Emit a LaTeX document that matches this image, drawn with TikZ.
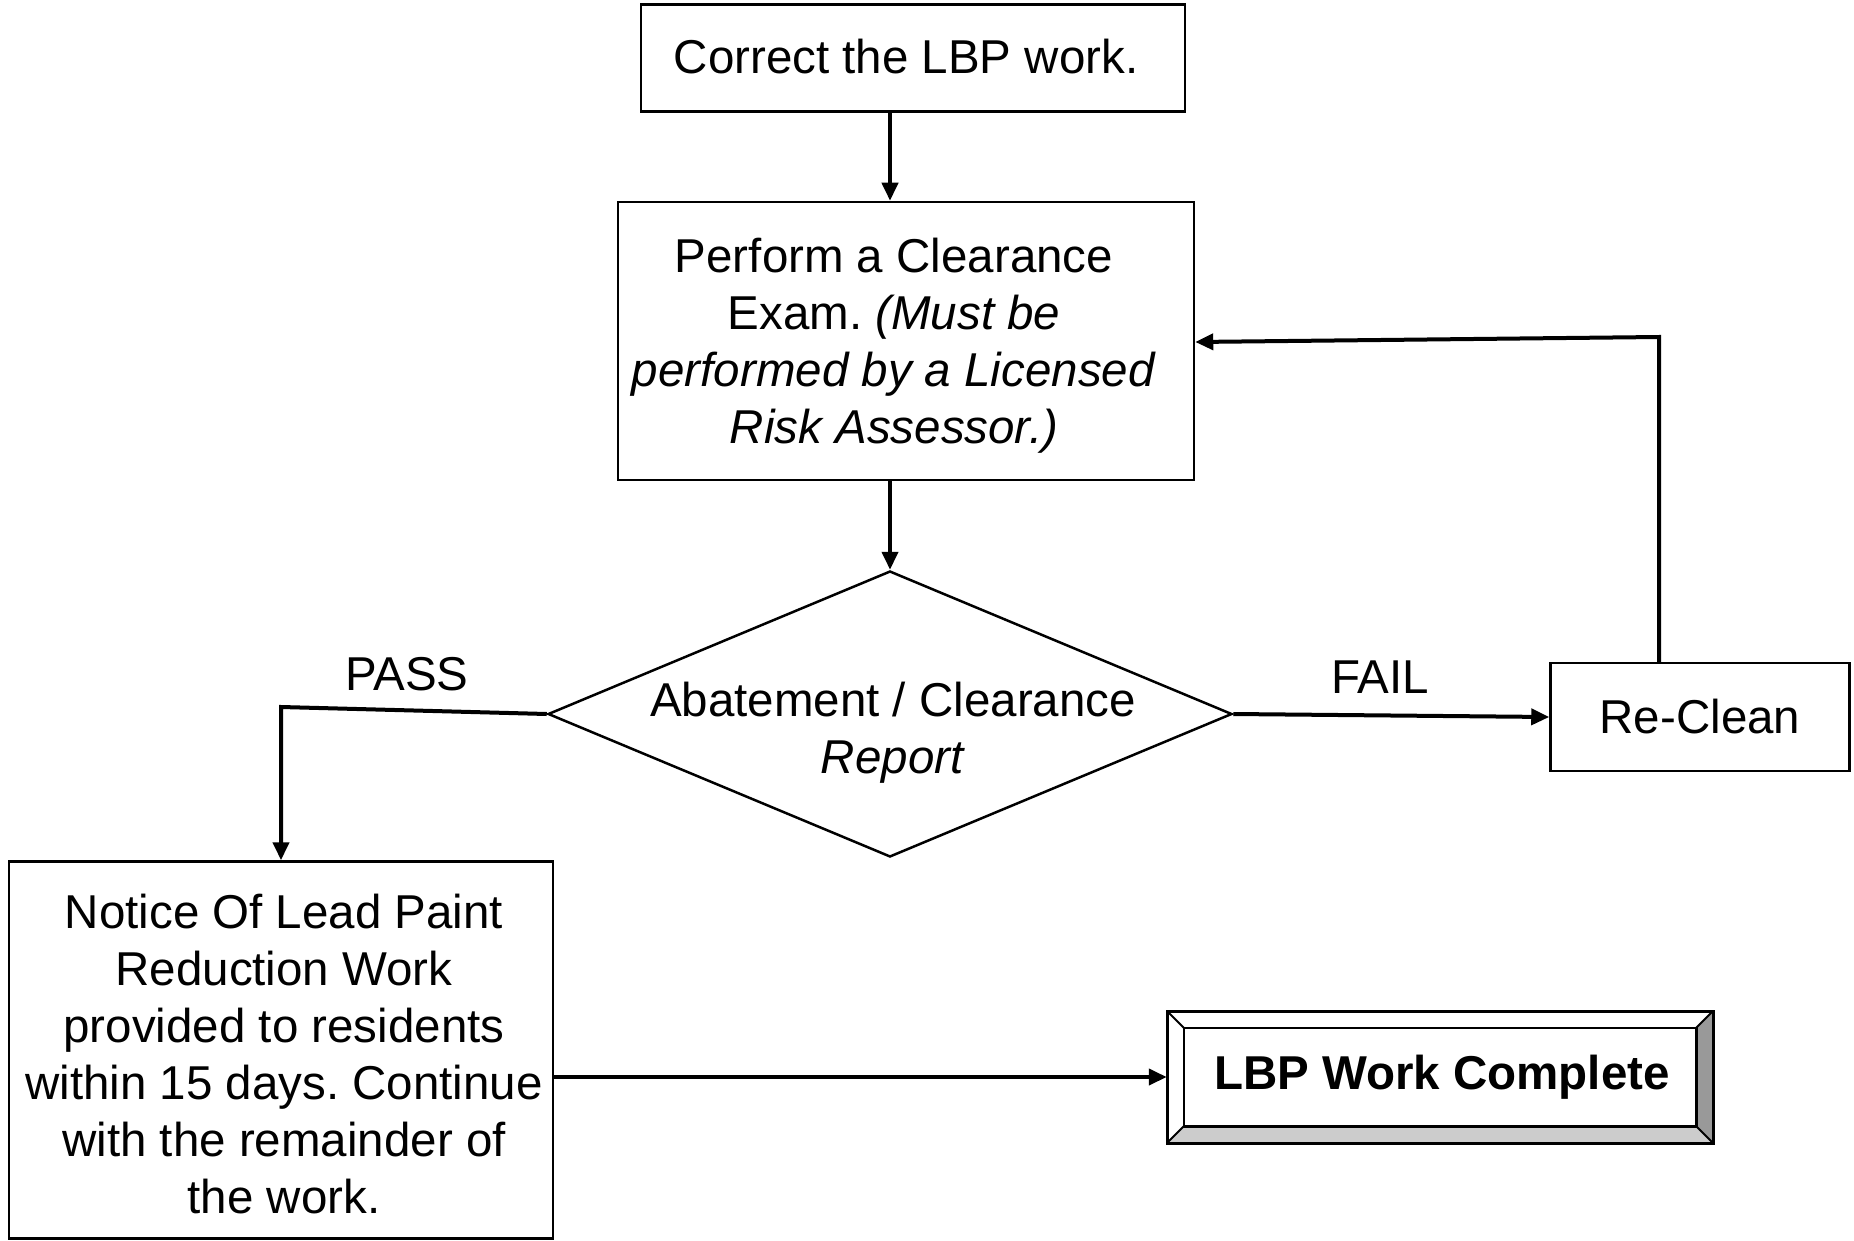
\documentclass[tikz,border=0pt]{standalone}
\usepackage{fontspec}
\setmainfont{Liberation Sans}
\usetikzlibrary{arrows.meta,calc,shapes.geometric}
\definecolor{bevdark}{HTML}{999999}
\definecolor{bevlight}{HTML}{CCCCCC}
\frenchspacing
\begin{document}
\begin{tikzpicture}[x=1pt,y=-1pt,
  every node/.style={font=\fontsize{47.5pt}{57pt}\selectfont},
  box/.style={draw,line width=2.5pt,inner sep=0pt,align=center},
  conn/.style={line width=4pt,-{Triangle[length=18pt,width=16pt]}},
  lbl/.style={inner sep=0pt,align=center}]
\useasboundingbox (0,0) rectangle (1854,1241);
% nodes
\node[box,minimum width=544,minimum height=107] (b1) at (913,58) {};
\node[lbl] (b1text) at (906,57) {Correct the LBP work.};
\node[box,minimum width=576,minimum height=278] (b2) at (906,341) {};
\node[lbl] (b2text) at (894,346)
  {Perform a Clearance\\Exam. \textit{(Must be}\\\textit{performed by a Licensed}\\\textit{Risk Assessor.)}};
\node[diamond,draw,line width=2.5pt,minimum width=684,minimum height=286,inner sep=0pt] (diam) at (890,714) {};
\node[lbl] (dtext) at (893,733) {Abatement / Clearance\\\textit{Report}};
\node[box,minimum width=299,minimum height=108] (reclean) at (1700,717) {Re-Clean};
\node[box,minimum width=544,minimum height=377] (notice) at (281,1050) {};
\node[lbl] (ntext) at (284,1054)
  {Notice Of Lead Paint\\Reduction Work\\provided to residents\\within 15 days. Continue\\with the remainder of\\the work.};
\node[draw,line width=2.5pt,minimum width=544,minimum height=130,inner sep=0pt] (lbp) at (1440,1077) {};
% bevels
\fill[bevlight] (lbp.south west) -- (lbp.south east) -- ($(lbp.south east)+(-17,-17)$) -- ($(lbp.south west)+(17,-17)$) -- cycle;
\fill[bevdark] (lbp.south east) -- (lbp.north east) -- ($(lbp.north east)+(-17,17)$) -- ($(lbp.south east)+(-17,-17)$) -- cycle;
\draw[line width=2.5pt] (lbp.south west) rectangle (lbp.north east);
\draw[line width=2.5pt] ($(lbp.south west)+(17,-17)$) rectangle ($(lbp.north east)+(-17,17)$);
\draw[line width=2pt] (lbp.north west) -- ++(17,17) (lbp.north east) -- ++(-17,17)
  (lbp.south west) -- ++(17,-17) (lbp.south east) -- ++(-17,-17);
\node[lbl,font=\fontsize{47.5pt}{57pt}\selectfont\bfseries] (lbptext) at ($(lbp.center)+(2,0)$) {LBP Work Complete};
% labels
\node[lbl] (pass) at (407,674) {PASS};
\node[lbl] (fail) at (1380,677) {FAIL};
% connectors
\coordinate (passc) at (281,707);
\coordinate (loopc) at (1659,337);
\draw[conn] (b1.south -| diam.north) -- (b2.north -| diam.north);
\draw[conn] (b2.south -| diam.north) -- (diam.north);
\draw[conn] (diam.west) -- (passc) -- (notice.north);
\draw[conn] (diam.east) -- (reclean.west);
\draw[conn] (reclean.north -| loopc) -- (loopc) -- (b2.east |- 0,342);
\draw[conn] (notice.east |- lbp.west) -- (lbp.west);
\end{tikzpicture}
\end{document}
